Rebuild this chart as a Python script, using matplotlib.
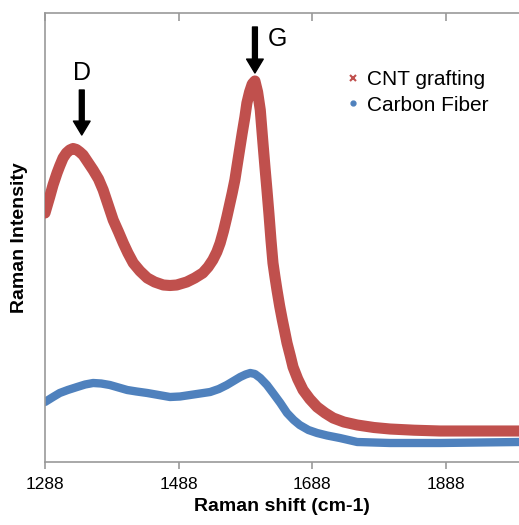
import matplotlib
matplotlib.use("Agg")
import matplotlib.pyplot as plt

plt.rcParams['font.family'] = ['Liberation Sans', 'DejaVu Sans']

# Raman shift (cm-1) and intensity (a.u.)
cnt_shift = [1288, 1295, 1300, 1306, 1310, 1315, 1320, 1325, 1330, 1335, 1340, 1345,
             1352, 1360, 1368, 1375, 1382, 1390, 1398, 1405, 1412, 1420, 1430, 1441,
             1452, 1465, 1475, 1485, 1500, 1512, 1524, 1532, 1539, 1545, 1550, 1555,
             1560, 1564, 1568, 1572, 1575, 1579, 1583, 1587, 1590, 1594, 1598, 1602,
             1606, 1610, 1614, 1617, 1620, 1623, 1626, 1629, 1632, 1635, 1639, 1643,
             1647, 1650, 1655, 1659, 1666, 1674, 1684, 1695, 1707, 1719, 1735, 1755,
             1780, 1804, 1840, 1879, 1940, 1997]
cnt_int = [2490, 2650, 2770, 2890, 2960, 3040, 3090, 3120, 3135, 3125, 3100, 3070,
           3000, 2920, 2830, 2720, 2580, 2420, 2300, 2190, 2090, 1990, 1910, 1840,
           1800, 1770, 1765, 1770, 1800, 1840, 1890, 1950, 2020, 2100, 2190, 2310,
           2450, 2570, 2690, 2820, 2950, 3120, 3290, 3450, 3590, 3700, 3780, 3810,
           3700, 3520, 3190, 2950, 2720, 2480, 2220, 1990, 1850, 1720, 1560, 1420,
           1290, 1190, 1060, 950, 830, 720, 630, 550, 490, 440, 400, 370,
           345, 330, 318, 310, 310, 310]

cf_shift = [1288, 1300, 1310, 1322, 1336, 1348, 1360, 1372, 1385, 1398, 1411, 1425,
            1441, 1458, 1475, 1490, 1505, 1520, 1535, 1548, 1560, 1570, 1580, 1588,
            1595, 1602, 1610, 1620, 1629, 1640, 1650, 1660, 1669, 1682, 1695, 1710,
            1729, 1755, 1804, 1879, 1997]
cf_int = [600, 650, 690, 720, 750, 775, 790, 785, 770, 745, 720, 705,
          690, 670, 650, 655, 670, 685, 700, 730, 770, 810, 850, 875,
          890, 880, 840, 770, 690, 590, 490, 420, 370, 320, 290, 265,
          240, 200, 190, 190, 200]

xticks = [1288, 1488, 1688, 1888]
series_names = ["CNT grafting", "Carbon Fiber"]

red = "#C0504D"
blue = "#4F81BD"

fig = plt.figure(figsize=(5.19, 5.25), dpi=100)
ax = fig.add_axes([45/519, 1-462/525, 1-45/519, (462-13)/525])

ax.plot(cnt_shift, cnt_int, color=red, lw=8, solid_capstyle='round',
        solid_joinstyle='round', zorder=3)
ax.plot(cnt_shift, cnt_int, color=red, lw=0, marker='x', ms=5, mew=1.2, zorder=3)
ax.plot(cf_shift, cf_int, color=blue, lw=6, solid_capstyle='round',
        solid_joinstyle='round', zorder=2)

# legend proxies
ax.plot([], [], color=red, lw=0, marker='x', ms=5, mew=1.5, label=series_names[0])
ax.plot([], [], color=blue, lw=0, marker='o', ms=3.5, label=series_names[1])

ax.set_xlim(1288, 1997)
ax.set_ylim(0, 4490)
ax.set_xticks(xticks)
ax.set_xticklabels([str(t) for t in xticks], fontsize=12.5)
ax.set_yticks([])

for s in ['left', 'bottom', 'top']:
    ax.spines[s].set_color('#999999')
    ax.spines[s].set_linewidth(1.2)
ax.spines['right'].set_visible(False)
ax.tick_params(axis='x', which='both', direction='out', length=5, width=1.2,
               color='#999999', top=False, pad=6)
# top ticks inward
sec = ax.secondary_xaxis('top')
sec.set_xticks(xticks)
sec.set_xticklabels([])
sec.tick_params(direction='in', length=6, width=1.2, color='#999999')
sec.spines['top'].set_visible(False)

ax.set_xlabel("Raman shift (cm-1)", fontsize=14, fontweight='bold', labelpad=4)
ax.set_ylabel("Raman Intensity", fontsize=14, fontweight='bold', labelpad=12)

# peak annotations
ax.annotate("", xy=(1343, 3270), xytext=(1343, 3720),
            arrowprops=dict(facecolor='black', edgecolor='black', width=3.5,
                            headwidth=12, headlength=10))
ax.text(1343, 3890, "D", fontsize=18, ha='center', va='center')
ax.annotate("", xy=(1602, 3890), xytext=(1602, 4350),
            arrowprops=dict(facecolor='black', edgecolor='black', width=3.5,
                            headwidth=12, headlength=10))
ax.text(1635, 4230, "G", fontsize=18, ha='center', va='center')

leg = ax.legend(loc='upper left', bbox_to_anchor=(293/474, 1-49/449), frameon=False,
                fontsize=15, handlelength=0.6, handletextpad=0.4, labelspacing=0.3,
                borderaxespad=0)

fig.savefig("out.png", dpi=100)
